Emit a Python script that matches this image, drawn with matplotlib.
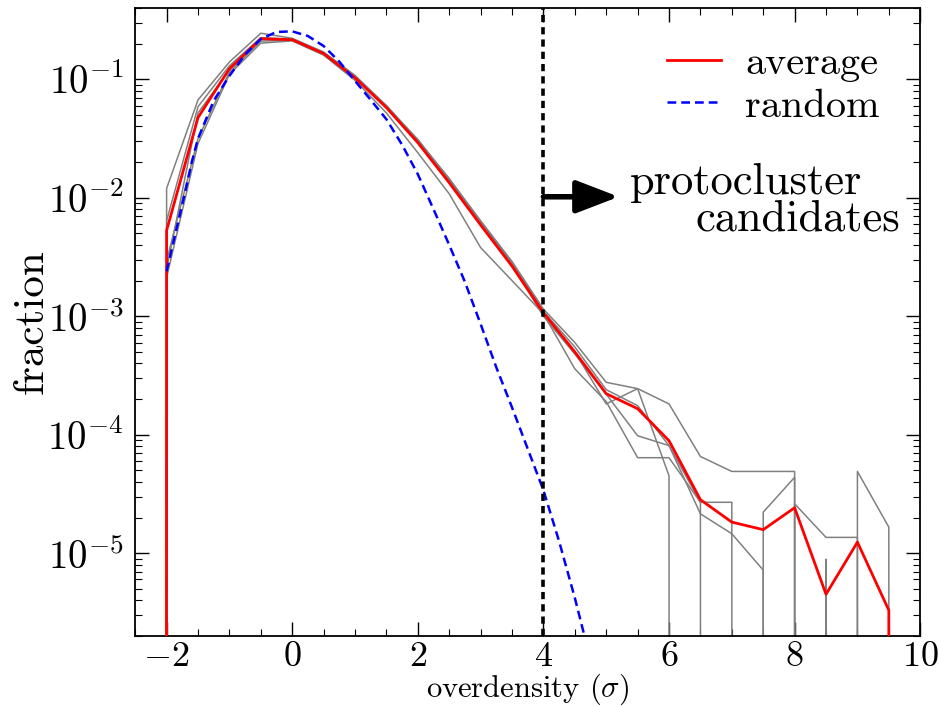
import matplotlib
matplotlib.use("Agg")
import matplotlib.pyplot as plt
from matplotlib.ticker import MultipleLocator, LogLocator

plt.rcParams["font.family"] = "cmr10"
plt.rcParams["mathtext.fontset"] = "cm"
plt.rcParams["axes.formatter.use_mathtext"] = True

# overdensity bins (in units of sigma)
overdensity = [-2.5, -2.0, -1.5, -1.0, -0.5, 0.0, 0.5, 1.0, 1.5, 2.0, 2.5, 3.0, 3.5,
               4.0, 4.5, 5.0, 5.5, 6.0, 6.5, 7.0, 7.5, 8.0, 8.5, 9.0, 9.5, 10.0]

# fraction of cells per bin in each field (empty bins are 0)
field_a = [0, 0.012, 0.067, 0.14, 0.245, 0.222, 0.17, 0.108, 0.060, 0.031, 0.0145, 6.4e-3, 2.9e-3,
           1.15e-3, 6.0e-4, 2.77e-4, 2.45e-4, 1.82e-4, 6.55e-5, 4.9e-5, 4.9e-5, 4.9e-5, 0, 4.9e-5, 1.66e-5, 0]
field_b = [0, 6.4e-3, 0.0587, 0.13, 0.225, 0.218, 0.167, 0.104, 0.059, 0.030, 0.0142, 6.3e-3, 2.8e-3,
           1.1e-3, 5.5e-4, 2.4e-4, 1.76e-4, 8.1e-5, 2.69e-5, 0, 2.22e-5, 4.37e-5, 0, 0, 0, 0]
field_c = [0, 2.5e-3, 0.052, 0.12, 0.218, 0.215, 0.165, 0.103, 0.058, 0.031, 0.0140, 6.3e-3, 2.7e-3,
           1.05e-3, 5.0e-4, 1.82e-4, 2.45e-4, 4.5e-5, 0, 0, 0, 0, 0, 0, 0, 0]
field_d = [0, 2.95e-3, 0.0316, 0.115, 0.21, 0.214, 0.163, 0.102, 0.060, 0.030, 0.0145, 6.2e-3, 2.75e-3,
           1.0e-3, 4.8e-4, 2.2e-4, 9.8e-5, 8.1e-5, 2.15e-5, 1.46e-5, 7.2e-6, 0, 8.9e-6, 0, 0, 0]
field_e = [0, 2.12e-3, 0.0287, 0.11, 0.202, 0.211, 0.16, 0.098, 0.052, 0.024, 0.0108, 3.8e-3, 2.0e-3,
           1.05e-3, 3.6e-4, 1.9e-4, 6.4e-5, 6.4e-5, 2.69e-5, 2.69e-5, 0, 2.61e-5, 1.36e-5, 1.36e-5, 0, 0]
fields = [field_a, field_b, field_c, field_d, field_e]

# average over the fields
average = [0, 5.3e-3, 0.0475, 0.123, 0.22, 0.216, 0.165, 0.103, 0.0577, 0.0292, 0.0134, 5.9e-3, 2.65e-3,
           1.07e-3, 5.0e-4, 2.22e-4, 1.66e-4, 8.9e-5, 2.83e-5, 1.83e-5, 1.58e-5, 2.42e-5, 4.5e-6, 1.24e-5, 3.3e-6, 0]

# random distribution
random_x = [-2.0, -1.9, -1.8, -1.7, -1.6, -1.5, -1.25, -1.0, -0.75, -0.5, -0.25, 0.0, 0.25, 0.5, 0.75,
            1.0, 1.25, 1.5, 1.75, 2.0, 2.25, 2.5, 2.75, 3.0, 3.25, 3.5, 3.75, 4.0, 4.25, 4.5, 4.75]
random_frac = [2.4e-3, 4.07e-3, 6.8e-3, 0.0115, 0.020, 0.0316, 0.066, 0.107, 0.162, 0.219, 0.251, 0.254,
               0.232, 0.191, 0.141, 0.097, 0.067, 0.046, 0.028, 0.0158, 8.0e-3, 4.0e-3, 1.95e-3,
               8.6e-4, 3.7e-4, 1.7e-4, 7.6e-5, 3.4e-5, 1.26e-5, 4.2e-6, 1.26e-6]

threshold = 4.0

fig = plt.figure(figsize=(9.39, 7.07), dpi=100)
ax = fig.add_axes([0.144, 0.1004, 0.836, 0.8883])
ax.set_yscale("log")

for frac in fields:
    ax.plot(overdensity, frac, color="0.5", lw=1.1, zorder=2)
ax.plot(overdensity, average, color="red", lw=2.0, label="average", zorder=3)
ax.plot(random_x, random_frac, color="blue", lw=1.8, dashes=(3.5, 2.0), label="random", zorder=3)

ax.axvline(threshold, color="black", lw=2.6, dashes=(2.0, 1.4), zorder=4)
ax.annotate("", xy=(5.2, 0.0102), xytext=(threshold, 0.0102),
            arrowprops=dict(arrowstyle="-|>,head_length=1.3,head_width=0.5",
                            lw=4, color="black", mutation_scale=20,
                            shrinkA=0, shrinkB=0), zorder=5)
ax.text(5.38, 0.0108, "protocluster", fontsize=32, va="baseline", ha="left")
ax.text(9.68, 0.00528, "candidates", fontsize=32, va="baseline", ha="right")

ax.set_xlim(-2.5, 10)
ax.set_ylim(2e-6, 0.4)
ax.xaxis.set_major_locator(MultipleLocator(2))
ax.xaxis.set_minor_locator(MultipleLocator(0.5))
ax.yaxis.set_major_locator(LogLocator(base=10, numticks=20))
ax.yaxis.set_minor_locator(LogLocator(base=10, subs=range(2, 10), numticks=20))

ax.tick_params(which="both", direction="in", top=True, right=True)
ax.tick_params(axis="x", labelsize=26, pad=4)
ax.tick_params(axis="y", labelsize=28, pad=8)
ax.tick_params(which="major", length=10, width=1.0)
ax.tick_params(which="minor", length=5, width=0.8)
for spine in ax.spines.values():
    spine.set_linewidth(1.3)

ax.set_xlabel(r"overdensity ($\sigma$)", fontsize=22, labelpad=-1)
ax.set_ylabel("fraction", fontsize=31, labelpad=-2)

ax.legend(loc="upper right", bbox_to_anchor=(0.969, 0.965), frameon=False, fontsize=29,
          handlelength=1.35, handletextpad=0.6, labelspacing=0.15, borderaxespad=0)

fig.savefig("out.png", dpi=100)
